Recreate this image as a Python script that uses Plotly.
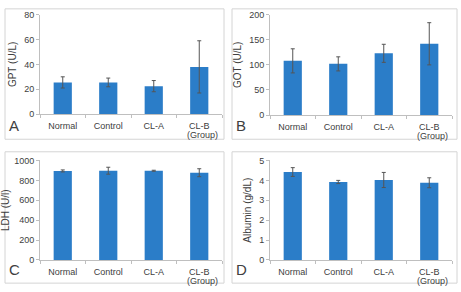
import plotly.graph_objects as go

categories = ["Normal", "Control", "CL-A", "CL-B"]
gpt = [25.5, 25.5, 22.5, 38.0]
gpt_err = [4.5, 3.5, 4.5, 21.0]
got = [108, 102, 123, 142]
got_err = [24, 14, 18, 42]
ldh = [895, 897, 897, 877]
ldh_err = [10, 35, 5, 40]
alb = [4.42, 3.92, 4.02, 3.88]
alb_err = [0.22, 0.08, 0.38, 0.25]

panels = [
    dict(y=gpt, e=gpt_err, title="GPT (U/L)", rng=[0, 80], dt=20, letter="A"),
    dict(y=got, e=got_err, title="GOT (U/L)", rng=[0, 200], dt=50, letter="B"),
    dict(y=ldh, e=ldh_err, title="LDH (U/l)", rng=[0, 1000], dt=200, letter="C"),
    dict(y=alb, e=alb_err, title="Albumin (g/dL)", rng=[0, 5], dt=1, letter="D"),
]

W, H = 461, 292
# plot-area pixel boxes (x0, x1, ytop, ybottom)
boxes = [(40, 222, 10, 113), (270, 452, 10, 114), (40, 222, 161, 264), (270, 452, 161, 264)]
frames = [(5, 224, 4, 139), (232, 457, 4, 139), (5, 224, 152, 288), (232, 457, 152, 288)]

BAR = "#2b7dc8"
FONT = "Liberation Sans"
TXT = "#404040"
fig = go.Figure()
layout = dict(width=W, height=H, margin=dict(l=0, r=0, t=0, b=0),
              paper_bgcolor="white", plot_bgcolor="white", showlegend=False,
              bargap=0.6, shapes=[], annotations=[])

for i, p in enumerate(panels):
    n = i + 1
    xa = "x" if n == 1 else f"x{n}"
    ya = "y" if n == 1 else f"y{n}"
    fig.add_trace(go.Bar(
        x=categories, y=p["y"], xaxis=xa, yaxis=ya, marker_color=BAR,
        marker_line_width=0,
        error_y=dict(type="data", array=p["e"], visible=True, color="#555555",
                     thickness=1, width=2),
    ))
    x0, x1, yt, yb = boxes[i]
    layout["xaxis" if n == 1 else f"xaxis{n}"] = dict(
        domain=[x0 / W, x1 / W], anchor=ya, showgrid=False, showline=True,
        linecolor="#bfbfbf", linewidth=1, ticks="outside", tickson="boundaries",
        ticklen=3, tickcolor="#bfbfbf", ticklabelstandoff=3,
        tickfont=dict(family=FONT, size=9, color=TXT),
        fixedrange=True)
    layout["yaxis" if n == 1 else f"yaxis{n}"] = dict(
        domain=[1 - yb / H, 1 - yt / H], anchor=xa, range=p["rng"], dtick=p["dt"],
        showgrid=False, showline=True, linecolor="#bfbfbf", linewidth=1,
        ticks="outside", ticklen=3, tickcolor="#bfbfbf", zeroline=False,
        tickfont=dict(family=FONT, size=9, color=TXT),
        title=dict(text=p["title"], font=dict(family=FONT, size=10, color=TXT), standoff=5),
        fixedrange=True)
    fx0, fx1, fyt, fyb = frames[i]
    layout["shapes"].append(dict(type="rect", xref="paper", yref="paper",
                                 x0=fx0 / W, x1=fx1 / W, y0=1 - fyb / H, y1=1 - fyt / H,
                                 line=dict(color="#d4d4d4", width=1)))
    layout["annotations"].append(dict(text=p["letter"], xref="paper", yref="paper",
                                      x=(fx0 + 2) / W, y=1 - (fyb - 3) / H,
                                      xanchor="left", yanchor="bottom", showarrow=False,
                                      font=dict(family=FONT, size=15, color=TXT)))
    layout["annotations"].append(dict(text="(Group)", xref="paper", yref="paper",
                                      x=(x1 - 2) / W, y=1 - (yb + 22) / H,
                                      xanchor="right", yanchor="middle", showarrow=False,
                                      font=dict(family=FONT, size=9, color=TXT)))

fig.update_layout(**layout)
fig.write_html("out.html")
